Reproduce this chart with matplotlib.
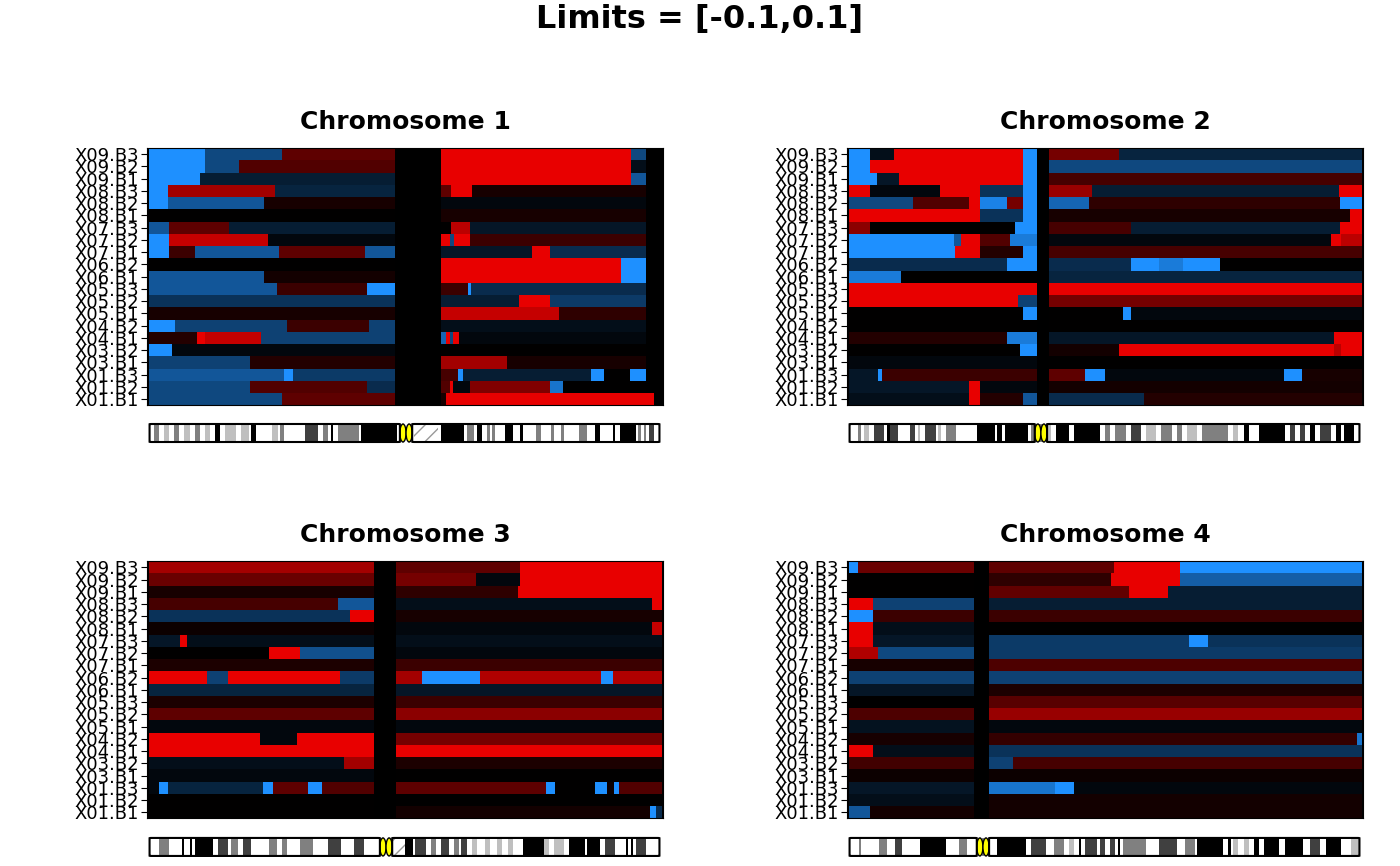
import numpy as np
import matplotlib.pyplot as plt
from matplotlib.colors import LinearSegmentedColormap, Normalize
from matplotlib.patches import FancyBboxPatch, Rectangle, Ellipse

samples = ['X09.B3', 'X09.B2', 'X09.B1', 'X08.B3', 'X08.B2', 'X08.B1', 'X07.B3',
           'X07.B2', 'X07.B1', 'X06.B2', 'X06.B1', 'X05.B3', 'X05.B2', 'X05.B1',
           'X04.B2', 'X04.B1', 'X03.B2', 'X03.B1', 'X01.B3', 'X01.B2', 'X01.B1']

# segments per sample (top to bottom): (start %, end %, log-ratio scaled to limits)
chr1 = [
    [(0, 11, -1), (11, 26, -0.5), (26, 48, 0.4), (57, 94, 1), (94, 97, -0.5)],
    [(0, 11, -1), (11, 17.6, -0.5), (17.6, 48, 0.35), (57, 94, 1), (94, 97, -0.1)],
    [(0, 10, -1), (10, 48, -0.2), (57, 94, 1), (94, 97, -0.6)],
    [(0, 3.7, -1), (3.7, 24.6, 0.7), (24.6, 48, -0.25), (57, 59, 0.4), (59, 63, 1), (63, 97, 0.1)],
    [(0, 3.7, -1), (3.7, 22.5, -0.6), (22.5, 48, 0.1), (57, 97, -0.05)],
    [(0, 48, 0), (57, 97, 0.1)],
    [(0, 4, -0.6), (4, 15.7, 0.4), (15.7, 48, -0.2), (57, 59, 0), (59, 62.6, 0.8), (62.6, 97, -0.15)],
    [(0, 4, -1), (4, 23.3, 0.85), (23.3, 48, -0.05), (57, 58.7, 1), (58.7, 59.5, -0.5), (59.5, 62.6, 1), (62.6, 97, 0.25)],
    [(0, 4, -1), (4, 9, 0.25), (9, 25.4, -0.6), (25.4, 42.2, 0.4), (42.2, 48, -0.6), (57, 74.8, -0.15), (74.8, 78.3, 1), (78.3, 97, -0.3)],
    [(0, 48, 0), (57, 92.2, 1), (92.2, 97, -1)],
    [(0, 22.5, -0.6), (22.5, 48, 0.08), (57, 92.2, 1), (92.2, 97, -1)],
    [(0, 25, -0.6), (25, 42.6, 0.25), (42.6, 48, -1), (57, 62.2, 0.25), (62.2, 62.8, -1), (62.8, 97, -0.3)],
    [(0, 48, -0.35), (57, 72.3, -0.2), (72.3, 78.3, 1), (78.3, 97, -0.4)],
    [(0, 48, 0.1), (57, 80, 0.85), (80, 97, 0.2)],
    [(0, 5.2, -1), (5.2, 27, -0.45), (27, 43, 0.25), (43, 48, -0.45), (57, 97, -0.1)],
    [(0, 9.5, 0.15), (9.5, 11, 1), (11, 21.9, 0.85), (21.9, 48, -0.45), (57, 58, -0.7), (58, 58.7, 1),
     (58.7, 59.3, -0.5), (59.3, 60.5, 1), (60.5, 97, -0.05)],
    [(0, 4.5, -1), (4.5, 48, -0.05), (57, 97, 0)],
    [(0, 19.8, -0.45), (19.8, 48, 0.15), (57, 69.8, 0.7), (69.8, 97, 0.1)],
    [(0, 26.4, -0.6), (26.4, 28.1, -1), (28.1, 48, -0.4), (57, 60.3, 0.3), (60.3, 61.4, -1), (61.4, 86.2, -0.2),
     (86.2, 88.8, -1), (88.8, 93.8, 0), (93.8, 97, -1)],
    [(0, 19.8, -0.5), (19.8, 42.6, 0.35), (42.6, 48, -0.3), (57, 58.7, 0.35), (58.7, 59.3, 1), (59.3, 62.6, -0.05),
     (62.6, 78.3, 0.55), (78.3, 80.8, -0.8), (80.8, 97, 0)],
    [(0, 26, -0.5), (26, 48, 0.4), (57, 58, 0.1), (58, 98.5, 1)],
]

chr2 = [
    [(0, 4.2, -1), (4.2, 8.8, -0.1), (8.8, 34, 1), (34, 36.8, -1), (39, 52.8, 0.5), (52.8, 100, -0.25)],
    [(0, 4.2, -1), (4.2, 34, 1), (34, 36.8, -1), (39, 100, -0.5)],
    [(0, 5.5, -1), (5.5, 9.8, -0.15), (9.8, 34, 1), (34, 36.8, -1), (39, 100, 0.3)],
    [(0, 4.2, 1), (4.2, 17.8, -0.05), (17.8, 25.7, 1), (25.7, 34, -0.35), (34, 36.8, -1), (39, 47.5, 0.65),
     (47.5, 95.6, -0.2), (95.6, 100, 1)],
    [(0, 12.6, -0.5), (12.6, 23.5, 0.35), (23.5, 25.7, 1), (25.7, 30.8, -0.9), (30.8, 34, 0.5), (34, 36.8, -1),
     (39, 46.9, -0.7), (46.9, 95.8, 0.2), (95.8, 100, -1)],
    [(0, 25.7, 1), (25.7, 34, -0.35), (34, 36.8, -1), (39, 97.7, 0.1), (97.7, 100, 1)],
    [(0, 4.2, 0.6), (4.2, 32.5, 0), (32.5, 36.8, -1), (39, 55, 0.3), (55, 95.8, -0.2), (95.8, 100, 1)],
    [(0, 20.5, -1), (20.5, 21.9, -0.6), (21.9, 25.7, 1), (25.7, 31.4, 0.35), (31.4, 36.8, -0.85),
     (39, 94.1, -0.05), (94.1, 96, 1), (96, 100, 0.8)],
    [(0, 20.7, -1), (20.7, 25.7, 1), (25.7, 34, 0.15), (34, 36.8, -1), (39, 100, 0.3)],
    [(0, 30.8, -0.3), (30.8, 36.8, -1), (39, 55, -0.3), (55, 60.6, -1), (60.6, 65.2, -0.85), (65.2, 72.5, -1), (72.5, 100, 0)],
    [(0, 10.3, -0.85), (10.3, 36.8, 0), (39, 100, -0.25)],
    [(0, 36.8, 1), (39, 100, 1)],
    [(0, 33, 1), (33, 36.8, -0.45), (39, 100, 0.5)],
    [(0, 34, 0), (34, 36.8, -1), (39, 53.5, 0), (53.5, 55, -1), (55, 100, -0.05)],
    [(0, 36.8, 0), (39, 100, 0)],
    [(0, 30.8, 0.15), (30.8, 36.8, -0.85), (39, 94.6, -0.15), (94.6, 100, 1)],
    [(0, 33.5, 0), (33.5, 36.8, -1), (39, 52.8, 0.08), (52.8, 94.6, 1), (94.6, 96, 0.8), (96, 100, 1)],
    [(0, 36.8, -0.05), (39, 100, 0)],
    [(0, 5.8, -0.15), (5.8, 6.6, -1), (6.6, 36.8, 0.25), (39, 46, 0.4), (46, 50, -1), (50, 84.9, -0.05),
     (84.9, 88.4, -1), (88.4, 100, 0.1)],
    [(0, 23.5, -0.15), (23.5, 25.7, 1), (25.7, 36.8, -0.05), (39, 100, 0.08)],
    [(0, 23.5, -0.1), (23.5, 25.7, 1), (25.7, 34, 0.15), (34, 36.8, -0.6), (39, 57.6, -0.3), (57.6, 100, 0.15)],
]

chr3 = [
    [(0, 44, 0.7), (48.2, 72.4, 0.4), (72.4, 100, 1)],
    [(0, 44, 0.45), (48.2, 63.9, 0.5), (63.9, 72.4, -0.05), (72.4, 100, 1)],
    [(0, 44, 0.1), (48.2, 72, 0.2), (72, 100, 1)],
    [(0, 37, 0.3), (37, 44, -0.6), (48.2, 98.2, -0.1), (98.2, 100, 1)],
    [(0, 39.3, -0.35), (39.3, 44, 1), (48.2, 100, 0.1)],
    [(0, 44, 0.05), (48.2, 98.2, -0.05), (98.2, 100, 0.85)],
    [(0, 6.1, -0.15), (6.1, 7.5, 1), (7.5, 44, -0.1), (48.2, 100, -0.1)],
    [(0, 23.4, 0), (23.4, 29.6, 1), (29.6, 44, -0.55), (48.2, 100, -0.05)],
    [(0, 44, 0.12), (48.2, 100, 0.25)],
    [(0, 11.3, 1), (11.3, 15.4, -0.45), (15.4, 37.4, 1), (37.4, 44, -0.4), (48.2, 53.4, 0.7), (53.4, 64.7, -1),
     (64.7, 88.3, 0.75), (88.3, 90.6, -1), (90.6, 100, 0.75)],
    [(0, 44, -0.25), (48.2, 100, -0.15)],
    [(0, 44, 0.12), (48.2, 100, 0.25)],
    [(0, 44, 0.4), (48.2, 100, 0.6)],
    [(0, 44, -0.05), (48.2, 100, -0.05)],
    [(0, 21.8, 1), (21.8, 29, -0.05), (29, 44, 1), (48.2, 100, 0.5)],
    [(0, 44, 1), (48.2, 100, 1)],
    [(0, 38.1, -0.1), (38.1, 44, 0.7), (48.2, 100, 0.12)],
    [(0, 44, -0.05), (48.2, 100, 0)],
    [(0, 2, -0.05), (2, 3.8, -1), (3.8, 22.4, -0.25), (22.4, 24.2, -1), (24.2, 31.1, 0.4), (31.1, 33.8, -1),
     (33.8, 44, 0.35), (48.2, 77.5, 0.4), (77.5, 79.2, -1), (79.2, 87, 0), (87, 89.3, -1), (89.3, 90.8, 0.05),
     (90.8, 91.8, -1), (91.8, 100, 0.35)],
    [(0, 44, 0), (48.2, 100, 0)],
    [(0, 44, 0), (48.2, 97.8, 0.08), (97.8, 99, -1), (99, 100, -0.3)],
]

chr4 = [
    [(0, 1.8, -1), (1.8, 24.5, 0.45), (27.3, 51.8, 0.4), (51.8, 64.7, 1), (64.7, 100, -1)],
    [(0, 24.5, 0), (27.3, 51.2, 0.2), (51.2, 64.7, 1), (64.7, 100, -0.65)],
    [(0, 24.5, 0), (27.3, 54.6, 0.42), (54.6, 62.2, 1), (62.2, 100, -0.2)],
    [(0, 4.7, 1), (4.7, 24.5, -0.45), (27.3, 100, -0.2)],
    [(0, 4.7, -1), (4.7, 24.5, 0.25), (27.3, 100, 0.25)],
    [(0, 4.7, 1), (4.7, 24.5, -0.1), (27.3, 100, 0)],
    [(0, 4.7, 1), (4.7, 24.5, -0.15), (27.3, 66.4, -0.4), (66.4, 70, -1), (70, 100, -0.35)],
    [(0, 5.7, 0.75), (5.7, 24.5, -0.5), (27.3, 100, -0.4)],
    [(0, 24.5, 0.1), (27.3, 100, 0.33)],
    [(0, 24.5, -0.45), (27.3, 100, -0.45)],
    [(0, 24.5, -0.15), (27.3, 100, 0.12)],
    [(0, 24.5, 0), (27.3, 100, 0.38)],
    [(0, 24.5, 0.33), (27.3, 100, 0.65)],
    [(0, 24.5, -0.12), (27.3, 100, -0.05)],
    [(0, 24.5, 0.1), (27.3, 99.1, 0.22), (99.1, 100, -0.8)],
    [(0, 4.7, 1), (4.7, 24.5, -0.1), (27.3, 100, -0.35)],
    [(0, 24.5, 0.28), (27.3, 32, -0.45), (32, 100, 0.3)],
    [(0, 24.5, 0.05), (27.3, 100, 0.05)],
    [(0, 24.5, -0.15), (27.3, 40.3, -0.8), (40.3, 44, -1), (44, 100, -0.05)],
    [(0, 24.5, -0.1), (27.3, 100, 0.08)],
    [(0, 4.1, -0.6), (4.1, 24.5, 0.08), (27.3, 100, 0.08)],
]

# ideogram bands (start %, end %, grey level; 0 = black), centromere %, stalk
bands1 = [(1, 2, 0.5), (3, 4, 0.75), (5, 6, 0.5), (7, 8, 0.75), (9, 10, 0.5), (11, 12, 0.75), (13, 14, 0),
          (15, 17, 0.75), (18, 19.5, 0.75), (20, 21, 0), (24, 25.3, 0.75), (25.7, 26.5, 0.5), (30.5, 33, 0.25),
          (34, 35, 0.5), (35.5, 36, 0), (37, 41, 0.5), (41.5, 48.5, 0), (50.5, 51.2, 0.25), (51.7, 53.5, 0),
          (54.5, 56, 0.25), (57, 61.5, 0), (62, 63.5, 0.5), (64, 65, 0), (66, 66.5, 0.5), (67, 67.5, 0.5),
          (69.5, 71, 0), (72.5, 73, 0), (75.5, 76.5, 0.5), (78.5, 79, 0.5), (80.5, 81, 0.5), (84, 85.5, 0.5),
          (87, 88, 0), (90.5, 91, 0), (92, 95, 0), (95.5, 96, 0.5), (96.5, 97, 0.5), (97.5, 98.5, 0.25)]
bands2 = [(1.8, 2.5, 0.5), (3, 4, 0.75), (5, 7, 0.25), (7.5, 8, 0), (8, 9.7, 0.25), (12, 13, 0.25),
          (13.5, 14, 0.75), (15, 17, 0.25), (17.5, 18, 0.75), (19, 21, 0.5), (25, 28.5, 0), (29, 30, 0),
          (30.5, 35, 0), (35.5, 38, 0.5), (38.5, 39.5, 0.75), (40.5, 43, 0), (44, 49, 0), (50, 51, 0.5),
          (52, 54, 0.5), (55, 57, 0.25), (58, 60, 0.75), (61, 63, 0.5), (64, 65, 0.5), (66, 68, 0.75),
          (69, 74, 0.5), (75, 76, 0.75), (77, 78, 0), (80, 85, 0), (86, 87, 0.25), (88, 89, 0.25), (90, 91, 0),
          (92, 94, 0.25), (95, 96, 0), (96.5, 98.5, 0)]
bands3 = [(2, 4, 0.5), (6.5, 7, 0), (8, 8.5, 0), (9, 12.5, 0), (13.5, 15.5, 0.25), (16, 17.5, 0.5),
          (18.5, 20, 0.25), (23.5, 25, 0.5), (26, 27, 0.5), (29.5, 32, 0.5), (35, 37.5, 0.25), (40, 42, 0.25),
          (49, 50, 0.75), (50, 51.5, 0), (52, 54, 0.25), (55, 56, 0.5), (57, 58.5, 0.25), (59.5, 60.5, 0.5),
          (61, 62, 0.25), (63, 64, 0.75), (65.5, 66.5, 0.75), (68, 69, 0.75), (70, 71, 0.75), (73, 77, 0),
          (77, 78, 0.75), (79, 81, 0.75), (82, 85, 0), (85.5, 88, 0), (89, 91, 0.25), (93, 93.5, 0), (94, 94.5, 0),
          (95, 97, 0.25)]
bands4 = [(2, 2.5, 0.5), (6, 7.5, 0.5), (9, 10.5, 0.25), (14, 19, 0), (21.5, 23, 0.5), (26, 26.5, 0.5),
          (29, 34.5, 0), (35.5, 37, 0.25), (37, 38.5, 0.25), (40, 42, 0.5), (43, 44, 0.75), (45, 45.3, 0),
          (46, 48.5, 0.25), (49, 50, 0.25), (51, 52, 0.25), (52.5, 53, 0), (53.5, 58, 0.5), (60.5, 64, 0.25),
          (65.5, 67.5, 0.5), (68, 73, 0), (74, 74.5, 0), (75, 76, 0.75), (77, 78, 0.75), (79, 80, 0),
          (81, 84, 0), (85, 88.5, 0), (90, 92, 0.25), (93, 96, 0), (98, 99.5, 0.75)]

chroms = [('Chromosome 1', chr1, bands1, 50.2, (51.7, 56.5)),
          ('Chromosome 2', chr2, bands2, 37.5, None),
          ('Chromosome 3', chr3, bands3, 46.3, (47.5, 50)),
          ('Chromosome 4', chr4, bands4, 26.2, None)]

cmap = LinearSegmentedColormap.from_list('bkr', ['#1E90FF', '#000000', '#E80000'])
norm = Normalize(-1, 1)

fig = plt.figure(figsize=(14, 8.66), dpi=100)
fig.suptitle('Limits = [-0.1,0.1]', fontsize=23, fontweight='bold', y=0.995)

lefts = [0.105, 0.605, 0.105, 0.605]
bottoms = [0.532, 0.532, 0.055, 0.055]
ibottoms = [0.487, 0.487, 0.009, 0.009]
W, H = 0.3686, 0.297
n = len(samples)

for k, (title, rows, bands, cen, stalk) in enumerate(chroms):
    ax = fig.add_axes([lefts[k], bottoms[k], W, H])
    ax.set_facecolor('black')
    for i, segs in enumerate(rows):
        y = n - 1 - i
        for s, e, v in segs:
            ax.barh(y, e - s, left=s, height=1.0, color=cmap(norm(v)), linewidth=0)
    ax.set_xlim(-0.3, 100.3)
    ax.set_ylim(-0.5, n - 0.5)
    ax.set_xticks([])
    ax.set_yticks(range(n))
    ax.set_yticklabels(samples[::-1], fontsize=13)
    ax.tick_params(axis='y', length=4, pad=2)
    ax.set_title(title, fontsize=18, fontweight='bold', pad=14)

    # ideogram
    ia = fig.add_axes([lefts[k], ibottoms[k], W, 0.026])
    ia.set_xlim(-0.3, 100.3)
    ia.set_ylim(0, 1)
    ia.axis('off')
    for s, e, g in bands:
        ia.add_patch(Rectangle((s, 0.1), e - s, 0.8, color=str(g), lw=0))
    if stalk:
        ia.add_patch(Rectangle((stalk[0], 0.1), stalk[1] - stalk[0], 0.8, facecolor='white',
                               hatch='//', edgecolor='0.6', lw=0))
    ia.add_patch(Ellipse((cen - 0.6, 0.5), 1.2, 0.8, color='yellow', ec='black', lw=1))
    ia.add_patch(Ellipse((cen + 0.6, 0.5), 1.2, 0.8, color='yellow', ec='black', lw=1))
    ia.add_patch(FancyBboxPatch((0.2, 0.1), cen - 1.4, 0.8, boxstyle='round,pad=0,rounding_size=0.4',
                                fc='none', ec='black', lw=1.5, mutation_aspect=1 / 40))
    ia.add_patch(FancyBboxPatch((cen + 1.2, 0.1), 99.6 - cen - 1.2, 0.8, boxstyle='round,pad=0,rounding_size=0.4',
                                fc='none', ec='black', lw=1.5, mutation_aspect=1 / 40))

fig.savefig('out.png', dpi=100)
